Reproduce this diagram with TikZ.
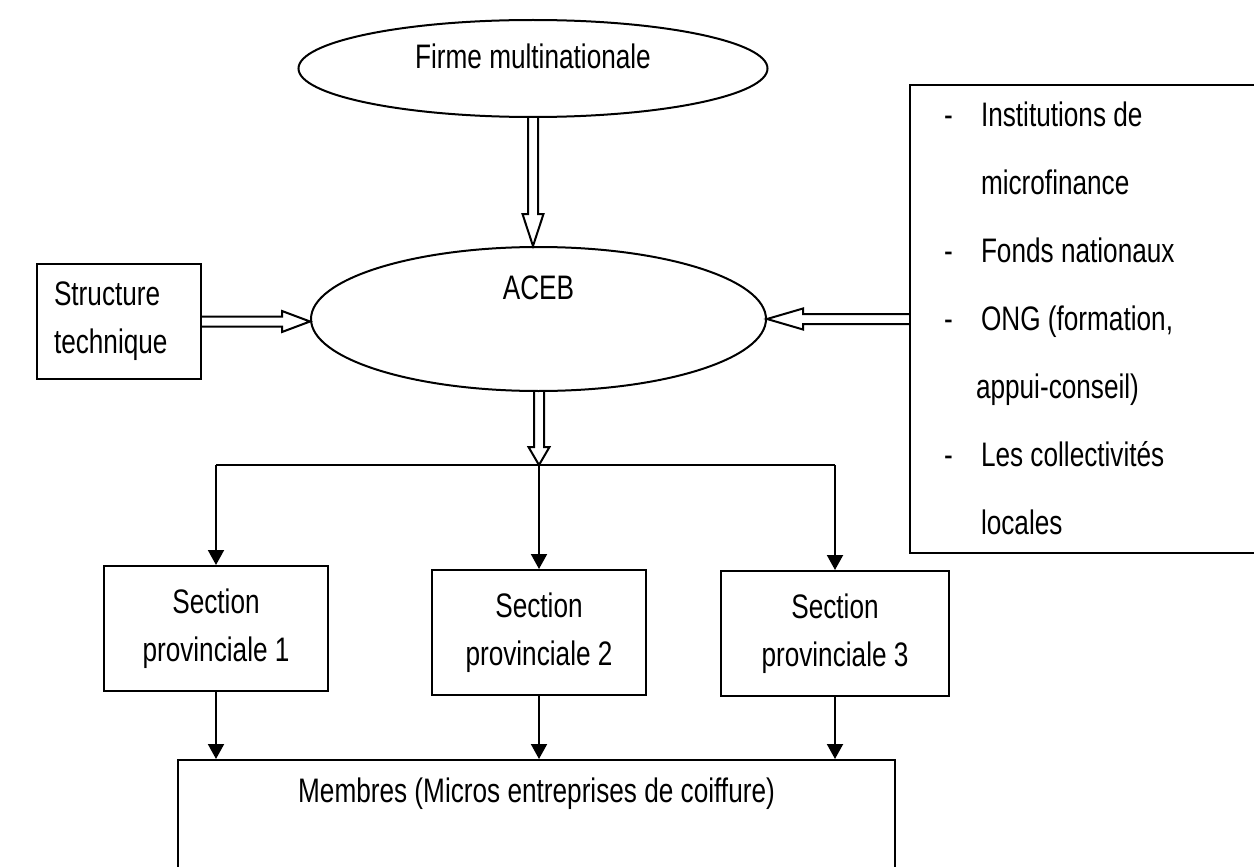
\documentclass[tikz,border=0pt]{standalone}
\usepackage{fontspec}
\setmainfont[FakeStretch=0.77]{Liberation Sans}
\usetikzlibrary{shapes.geometric,arrows.meta,calc}

% hollow (outlined) block arrow from #1 to #2, head length #3
\newcommand\hollowarrow[3]{%
  \coordinate (hb) at ($(#2)!#3!(#1)$);
  \draw[hollow] ($(#1)!5pt!90:(#2)$) -- ($(hb)!5pt!90:(#2)$)
    -- ($(hb)!10.5pt!90:(#2)$) -- (#2) -- ($(hb)!10.5pt!-90:(#2)$)
    -- ($(hb)!5pt!-90:(#2)$) -- ($(#1)!5pt!-90:(#2)$);
}
\newcommand\listdash{\makebox[45pt][l]{\hspace*{8pt}-}}
\newcommand\listgap{\hspace*{45pt}}

\begin{document}
\begin{tikzpicture}[x=1pt,y=-1pt,line width=2pt,
  txt/.style={font=\fontsize{34}{48}\selectfont},
  oval/.style={ellipse,draw,inner sep=0pt,txt},
  box/.style={rectangle,draw,inner sep=0pt,align=center,txt},
  hollow/.style={line width=2pt,line join=miter},
  tip/.style={-{Triangle[length=15pt,width=16pt]}}]
\useasboundingbox (0,0) rectangle (1254,867);
\clip (0,0) rectangle (1254,867);

% main bodies
\node[oval,minimum width=469pt,minimum height=97pt,
      text height=24pt,text depth=24pt] (firm) at (533,68.5) {Firme multinationale};
\node[oval,minimum width=455pt,minimum height=144pt,
      text height=24pt,text depth=63pt] (aceb) at (538.5,319) {ACEB};
\node[box,minimum width=164pt,minimum height=115pt,
      text width=130pt,align=left] (tech) at (119,321.5) {Structure\\technique};

% partners box (runs off the right edge)
\node[rectangle,draw,minimum width=390pt,minimum height=468pt] (fund) at (1105,319) {};
\node[inner sep=0pt,anchor=north west,align=left,
      font=\fontsize{34}{68}\selectfont] (fundlist) at (935,101)
  {\listdash Institutions de\\
   \listgap microfinance\\
   \listdash Fonds nationaux\\
   \listdash ONG (formation,\\
   \hspace*{40pt}appui-conseil)\\
   \listdash Les collectivités\\
   \listgap locales};

% provincial sections
\node[box,minimum width=224pt,minimum height=125pt] (sec1) at (216,628.5) {Section\\provinciale 1};
\node[box,minimum width=214pt,minimum height=125pt] (sec2) at (539,632.5) {Section\\provinciale 2};
\node[box,minimum width=228pt,minimum height=125pt] (sec3) at (835,633.5) {Section\\provinciale 3};

% members (runs off the bottom edge)
\node[box,minimum width=717pt,minimum height=140pt,
      text height=24pt,text depth=80pt] (members) at (536.5,830)
  {Membres (Micros entreprises de coiffure)};

% block arrows into and out of ACEB
\coordinate (split) at (539,465);
\hollowarrow{firm.south}{firm.south |- aceb.north}{32pt}
\hollowarrow{tech.east}{tech.east -| aceb.west}{28pt}
\hollowarrow{fund.west}{aceb.east}{36pt}
\hollowarrow{split |- aceb.south}{split}{18pt}

% distribution to the sections and down to the members
\draw (sec1.north |- split) -- (sec3.north |- split);
\foreach \s in {sec1,sec2,sec3}{
  \draw[tip] (\s.north |- split) -- (\s.north);
  \draw[tip] (\s.south) -- (\s.south |- members.north);
}
\end{tikzpicture}
\end{document}
